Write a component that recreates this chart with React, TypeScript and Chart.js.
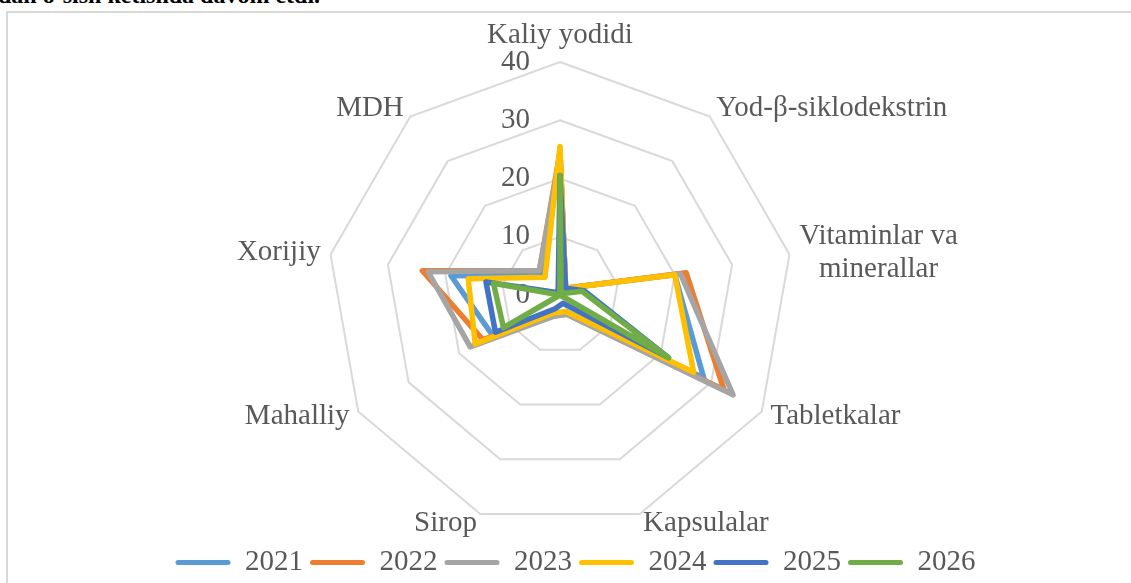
import React, { useEffect, useRef } from 'react';
import { Chart, registerables } from 'chart.js';

Chart.register(...registerables);

// ---- data ----
const categories: (string | string[])[] = [
  'Kaliy yodidi',
  'Yod-β-siklodekstrin',
  ['Vitaminlar va', 'minerallar'],
  'Tabletkalar',
  'Kapsulalar',
  'Sirop',
  'Mahalliy',
  'Xorijiy',
  'MDH',
];
const years = ['2021', '2022', '2023', '2024', '2025', '2026'];
const v2021 = [24.5, 1.5, 20, 28.5, 3, 3.5, 13.5, 19, 4.5];
const v2022 = [24.5, 1.5, 22, 32.5, 3.5, 3.8, 15.3, 24, 5.5];
const v2023 = [24, 1.5, 21, 34.3, 3.5, 4, 17.8, 23, 5.5];
const v2024 = [25.5, 1.5, 20, 26.5, 3, 3.3, 16.8, 16, 4];
const v2025 = [20.5, 1.5, 4.2, 21.5, 1.5, 2.5, 12.8, 12.9, 0.5];
const v2026 = [20.5, 0.3, 3.8, 21.5, 0, 0, 11.2, 11.6, 0];
const seriesValues = [v2021, v2022, v2023, v2024, v2025, v2026];
const tickValues = [0, 10, 20, 30, 40];

const colors = ['#5B9BD5', '#ED7D31', '#A5A5A5', '#FFC000', '#4472C4', '#70AD47'];
const FONT = '"Liberation Serif", "Times New Roman", serif';
const FS = 29;
const TEXT = '#595959';
const LINE_W = 5.5;

const labelPlugin = {
  id: 'excelRadarLabels',
  beforeDatasetsDraw(chart: any) {
    const scale = chart.scales.r;
    const ctx = chart.ctx;
    ctx.save();
    ctx.font = `${FS}px ${FONT}`;
    ctx.fillStyle = TEXT;
    // tick labels, right-aligned left of the vertical axis
    ctx.textAlign = 'right';
    ctx.textBaseline = 'middle';
    tickValues.forEach((v) => {
      const d = scale.getDistanceFromCenterForValue(v);
      ctx.fillText(String(v), scale.xCenter - 30, scale.yCenter - d);
    });
    // category labels
    const n = categories.length;
    const lh = FS * 1.12;
    categories.forEach((lab, i) => {
      const lines = Array.isArray(lab) ? lab : [lab];
      const p = scale.getPointPosition(i, scale.drawingArea + 10);
      const angle = (360 / n) * i;
      const maxW = Math.max(...lines.map((l) => ctx.measureText(l).width));
      let cx = p.x;
      if (angle > 0 && angle < 180) cx = p.x + maxW / 2;
      else if (angle > 180) cx = p.x - maxW / 2;
      const blockH = lh * lines.length;
      let cy = p.y;
      if (angle === 0) cy = p.y - blockH / 2;
      ctx.textAlign = 'center';
      ctx.textBaseline = 'middle';
      lines.forEach((l, k) => ctx.fillText(l, cx, cy - blockH / 2 + lh * (k + 0.5)));
    });
    ctx.restore();
  },
};

export default function App() {
  const ref = useRef<HTMLCanvasElement | null>(null);
  useEffect(() => {
    if (!ref.current) return;
    const chart = new Chart(ref.current, {
      type: 'radar',
      data: {
        labels: categories.map((c) => (Array.isArray(c) ? c.join(' ') : c)),
        datasets: years.map((y, i) => ({
          label: y,
          data: seriesValues[i],
          borderColor: colors[i],
          backgroundColor: colors[i],
          borderWidth: LINE_W,
          fill: false,
          pointRadius: 0,
          pointHoverRadius: 0,
          tension: 0,
          borderJoinStyle: 'round' as const,
          borderCapStyle: 'round' as const,
          order: years.length - i,
        })),
      },
      options: {
        responsive: false,
        animation: false,
        elements: {
          line: { borderWidth: LINE_W, borderJoinStyle: 'round', borderCapStyle: 'round' },
          point: { radius: 0 },
        },
        layout: { padding: { left: 20, right: 0, top: 0, bottom: -4 } },
        plugins: {
          legend: {
            position: 'bottom',
            labels: {
              font: { family: FONT, size: FS },
              color: TEXT,
              boxWidth: 55,
              boxHeight: 5,
              padding: 7,
              useBorderRadius: true,
              borderRadius: 2.5,
              sort: (a: any, b: any) => a.datasetIndex - b.datasetIndex,
              generateLabels: (c: any) =>
                (Chart.defaults.plugins.legend.labels.generateLabels as any)(c).map((l: any) => ({
                  ...l,
                  lineWidth: 0,
                  fillStyle: colors[l.datasetIndex],
                  strokeStyle: colors[l.datasetIndex],
                })),
            },
          },
          tooltip: { enabled: false },
        },
        scales: {
          r: {
            min: 0,
            max: 40,
            ticks: { stepSize: 10, display: false },
            pointLabels: { display: false },
            angleLines: { display: false },
            grid: { color: '#D9D9D9', lineWidth: 2, circular: false },
            afterFit: (scale: any) => {
              scale.xCenter = 560;
              scale.yCenter = 295;
              scale.drawingArea = 233;
            },
          },
        },
      },
      plugins: [labelPlugin],
    });
    return () => chart.destroy();
  }, []);

  return (
    <div
      style={{
        position: 'fixed',
        left: 0,
        top: 0,
        width: 1131,
        height: 583,
        overflow: 'hidden',
        background: '#fff',
      }}
    >
      <div
        style={{
          position: 'absolute',
          left: -2,
          top: -17,
          fontFamily: FONT,
          fontWeight: 'bold',
          fontSize: 24,
          lineHeight: '24px',
          whiteSpace: 'nowrap',
          color: '#000',
        }}
      >
        dan o‘sish ketishda davom etdi.
      </div>
      <div
        style={{
          position: 'absolute',
          left: 6,
          top: 11,
          width: 1150,
          height: 620,
          border: '2px solid #D9D9D9',
          boxSizing: 'border-box',
        }}
      />
      <canvas
        ref={ref}
        width={1131}
        height={583}
        style={{ position: 'absolute', left: 0, top: 0, width: 1131, height: 583 }}
      />
    </div>
  );
}
